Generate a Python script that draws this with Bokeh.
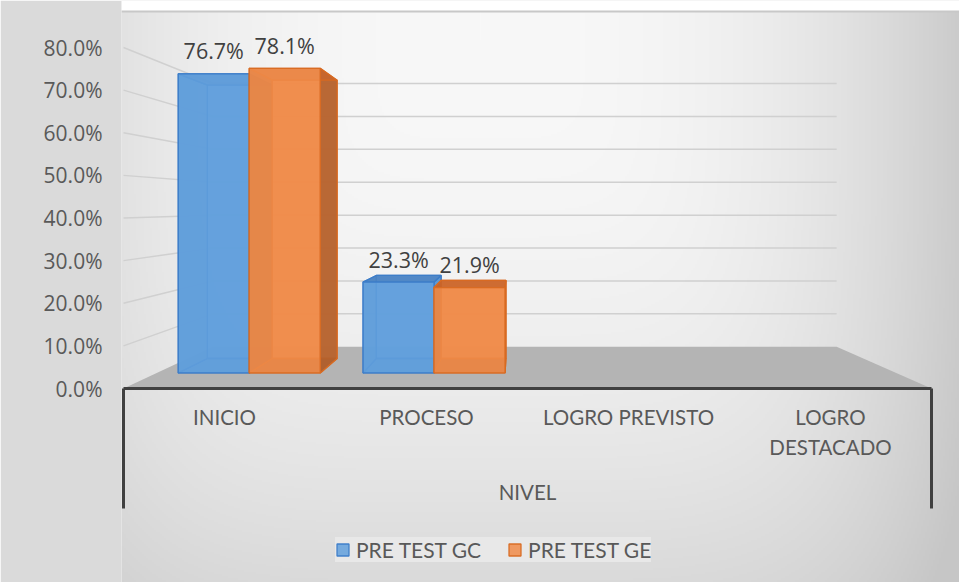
import numpy as np
from bokeh.plotting import figure
from bokeh.models import Range1d, FixedTicker, ColumnDataSource, Legend, LegendItem
from bokeh.core.properties import value
from bokeh.embed import file_html
from bokeh.resources import INLINE

# ---------------- data ----------------
categories = ["INICIO", "PROCESO", "LOGRO PREVISTO", "LOGRO DESTACADO"]
category_labels = ["INICIO", "PROCESO", "LOGRO PREVISTO", "LOGRO\nDESTACADO"]
axis_title = "NIVEL"
series_names = ["PRE TEST GC", "PRE TEST GE"]
pre_test_gc = [76.7, 23.3, None, None]
pre_test_ge = [78.1, 21.9, None, None]
value_labels_gc = ["76.7%", "23.3%", "", ""]
value_labels_ge = ["78.1%", "21.9%", "", ""]
y_ticks = [0, 10, 20, 30, 40, 50, 60, 70, 80]
y_tick_labels = ["0.0%", "10.0%", "20.0%", "30.0%", "40.0%", "50.0%", "60.0%", "70.0%", "80.0%"]

# ---------------- layout / style ----------------
W, H = 959, 582
FL = 121                 # frame left (figure px)
FR = W                   # frame right
X0PX = 123               # figure px of x = 0
PX_X = 202.0             # px per category
Y0PX = 388               # figure px of y = 0
PX_Y = 4.2625            # px per percent (front plane)

x_range = Range1d((FL - X0PX) / PX_X, (FR - X0PX) / PX_X)
y_range = Range1d(-(H - Y0PX) / PX_Y, Y0PX / PX_Y)

# simple perspective: vanishing point and depth scales
VX = (515 - X0PX) / PX_X
VY = (Y0PX - 205) / PX_Y
S_FRONT, S_BACK, S_WALL = 0.915, 0.836, 0.772
BAR_W = 0.384
LABEL_GAP_PX = 23


def proj(x, y, s):
    return VX + (x - VX) * s, VY + (y - VY) * s


TEXT = "#595959"
colors = {
    "PRE TEST GC": dict(base="#62a0dc", side="#5a96d2", top="#4b82c3", edge="#3c7cc8"),
    "PRE TEST GE": dict(base="#f08c4b", side="#b05f2d", top="#c8642a", edge="#d86a22"),
}

p = figure(width=W, height=H, x_range=x_range, y_range=y_range,
           output_backend="svg", toolbar_location=None, title=None,
           x_axis_location=None, y_axis_location="left",
           min_border_left=FL, min_border_right=W - FR,
           min_border_top=0, min_border_bottom=0,
           border_fill_color="#dadada", background_fill_color="#e6e6e6",
           outline_line_color=None)
p.grid.visible = False

# ---- background gradient (frame) ----
ny, nx = H // 2, (FR - FL) // 2 + 1
fxs = FL + (np.arange(nx) + 0.5) * 2
fys = (np.arange(ny) + 0.5) * 2
U = np.abs(fxs[None, :] - 480) / 480.0
Wv = np.clip((fys[:, None] - 40) / 540.0, 0, None)
val = 248 - np.sqrt((45 * U ** 2.5) ** 2 + (30 * Wv ** 2) ** 2)
val = np.clip(val, 198, 250)
val[fys < 10, :] = 255
val[(fys >= 10) & (fys < 12), :] = 200
val = val.astype(np.uint8)[::-1, :]
img = np.empty((ny, nx), dtype=np.uint32)
view = img.view(dtype=np.uint8).reshape((ny, nx, 4))
view[:, :, 0] = val
view[:, :, 1] = val
view[:, :, 2] = val
view[:, :, 3] = 255
p.image_rgba(image=[img], x=x_range.start, y=y_range.start,
             dw=nx * 2 / PX_X, dh=y_range.end - y_range.start)

n = len(categories)

# ---- floor ----
floor = [proj(0, 0, 1), proj(n, 0, 1), proj(n, 0, S_WALL), proj(0, 0, S_WALL)]
p.patch([c[0] for c in floor], [c[1] for c in floor], fill_color="#b4b4b4", line_color=None)

# ---- gridlines: left wall + back wall ----
gx, gy = [], []
for t in y_ticks[1:]:
    a = (0, t)
    b = proj(0, t, S_WALL)
    c = proj(n, t, S_WALL)
    gx.append([a[0], b[0], c[0]])
    gy.append([a[1], b[1], c[1]])
p.multi_line(gx, gy, line_color="#d0d0d0", line_width=1.5)

# ---- 3D bars ----
xs, ys, fills, lines, alphas = [], [], [], [], []
legend_index = {}
lab_x, lab_y, lab_t = [], [], []
for i in range(n):
    for j, (name, vals, labs) in enumerate([(series_names[0], pre_test_gc, value_labels_gc),
                                            (series_names[1], pre_test_ge, value_labels_ge)]):
        v = vals[i]
        if v is None:
            continue
        x0 = i + 0.5 - BAR_W + j * BAR_W
        x1 = x0 + BAR_W
        fb = lambda x, y: proj(x, y, S_FRONT)
        bb = lambda x, y: proj(x, y, S_BACK)
        faces = [
            ("base", [bb(x0, 0), bb(x1, 0), bb(x1, v), bb(x0, v)]),
            ("side", [fb(x0, 0), fb(x1, 0), bb(x1, 0), bb(x0, 0)]),
            ("side", [fb(x0, 0), fb(x0, v), bb(x0, v), bb(x0, 0)]),
            ("side", [fb(x1, 0), fb(x1, v), bb(x1, v), bb(x1, 0)]),
            ("top", [fb(x0, v), fb(x1, v), bb(x1, v), bb(x0, v)]),
            ("base", [fb(x0, 0), fb(x1, 0), fb(x1, v), fb(x0, v)]),
        ]
        col = colors[name]
        for k, (kind, pts) in enumerate(faces):
            xs.append([q[0] for q in pts])
            ys.append([q[1] for q in pts])
            fills.append(col[kind])
            lines.append(col["edge"])
            alphas.append(0.86)
            if k == len(faces) - 1 and name not in legend_index:
                legend_index[name] = len(xs) - 1
        # data label, centred above the front face
        fx_c, fy_top = fb((x0 + x1) / 2, v)
        lab_x.append(fx_c)
        lab_y.append(fy_top + LABEL_GAP_PX / PX_Y)
        lab_t.append(labs[i])

bars_src = ColumnDataSource(dict(xs=xs, ys=ys, fill=fills, line=lines, alpha=alphas))
bars = p.patches("xs", "ys", source=bars_src, fill_color="fill", fill_alpha="alpha",
                 line_color="line", line_width=1.3, line_alpha=0.95)

p.text(lab_x, lab_y, text=lab_t, text_align="center", text_baseline="middle",
       text_font=value("Open Sans"), text_font_size="21.5px", text_color="#404040")

# ---- category axis box ----
box_depth = -(508 - Y0PX) / PX_Y
p.multi_line([[0, n], [0, 0], [n, n]], [[0, 0], [0, box_depth], [0, box_depth]],
             line_color="#404040", line_width=3)

# ---- category labels ----
cx, cy, ct = [], [], []
first_line = -(416.5 - Y0PX) / PX_Y
line_step = 30 / PX_Y
for i, lab in enumerate(category_labels):
    for k, part in enumerate(lab.split("\n")):
        cx.append(i + 0.5)
        cy.append(first_line - k * line_step)
        ct.append(part)
p.text(cx, cy, text=ct, text_align="center", text_baseline="middle",
       text_font=value("Lato"), text_font_size="20.5px", text_color=TEXT)

p.text([n / 2], [-(491.5 - Y0PX) / PX_Y], text=[axis_title], text_align="center",
       text_baseline="middle", text_font=value("Lato"), text_font_size="20.5px", text_color=TEXT)

# ---- y axis ----
ax = p.yaxis[0]
ax.ticker = FixedTicker(ticks=y_ticks)
ax.major_label_overrides = {t: l for t, l in zip(y_ticks, y_tick_labels)}
ax.axis_line_color = None
ax.major_tick_line_color = None
ax.minor_tick_line_color = None
ax.major_tick_out = 0
ax.major_tick_in = 0
ax.major_label_standoff = 19
ax.major_label_text_font = "Open Sans"
ax.major_label_text_font_size = "21px"
ax.major_label_text_color = TEXT

# ---- legend ----
legend = Legend(items=[LegendItem(label=nm, renderers=[bars], index=legend_index[nm]) for nm in series_names],
                orientation="horizontal", location=(214, 20), margin=0, padding=11,
                spacing=26, label_standoff=6, glyph_width=15, glyph_height=15,
                label_text_font="Lato", label_text_font_size="21px", label_text_color=TEXT,
                background_fill_color="#e8e8e8", background_fill_alpha=1.0,
                border_line_color=None)
p.add_layout(legend)

open("out.html", "w").write(file_html(p, INLINE))
